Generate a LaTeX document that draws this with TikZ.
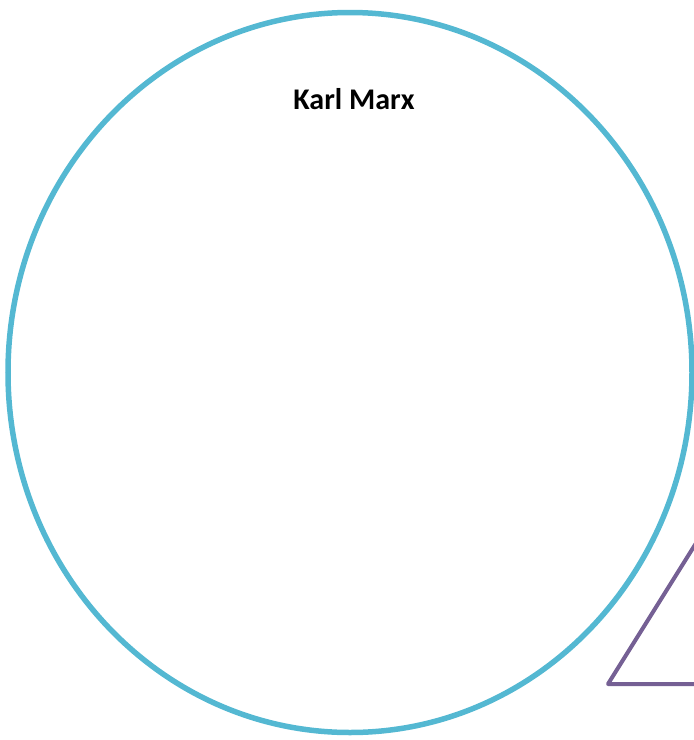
\documentclass[tikz,border=0pt]{standalone}
\usepackage{fontspec}
\setmainfont{Carlito}
\usepackage{tikz}
\usetikzlibrary{positioning}
\definecolor{ringblue}{RGB}{84,184,210}
\definecolor{trimauve}{RGB}{117,96,148}

\begin{document}
\begin{tikzpicture}[
    x=1pt, y=-1pt,
    ring/.style={draw=ringblue, line width=5.5pt},
    tri/.style={draw=trimauve, line width=4pt, line join=round},
    title/.style={font=\fontsize{30}{36}\selectfont\bfseries},
]
    % Page frame
    \useasboundingbox (0,0) rectangle (694,740);
    \clip (0,0) rectangle (694,740);

    % Circle
    \draw[ring] (350,372.5) ellipse [x radius=342, y radius=360];
    \node[title] (marx) at (354,99) {Karl Marx};

    % Triangle (cut off at the right)
    \draw[tri] (608,684) -- (733,484) -- (858,684) -- cycle;
\end{tikzpicture}
\end{document}
